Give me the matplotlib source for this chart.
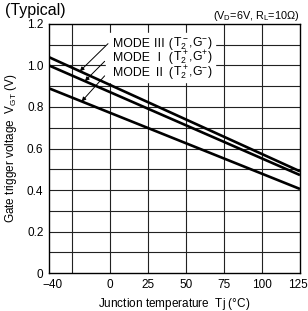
import numpy as np
import matplotlib
matplotlib.use("Agg")
import matplotlib.pyplot as plt
from matplotlib.transforms import ScaledTranslation

plt.rcParams['font.family'] = ['Liberation Sans', 'Noto Sans CJK JP', 'DejaVu Sans']
plt.rcParams['mathtext.fontset'] = 'custom'
plt.rcParams['mathtext.rm'] = 'Liberation Sans'
plt.rcParams['mathtext.it'] = 'Liberation Sans'

# Tj endpoints and VGT at each end
temps = [-40, 125]
mode3 = [1.04, 0.49]
mode1 = [1.00, 0.472]
mode2 = [0.89, 0.405]

mode_heads = ["MODE Ⅲ (", "MODE Ⅰ (", "MODE Ⅱ ("]
mode_tails = [r"$\mathregular{T_2^-}$,G$^{-}$)",
              r"$\mathregular{T_2^+}$,G$^{+}$)",
              r"$\mathregular{T_2^+}$,G$^{-}$)"]
# where each arrow points (Tj on the curve)
arrow_tj = [-19.7, -16.4, -18.5]

xticks = [-40, 0, 25, 50, 75, 100, 125]
xgrid = [-25, 0, 25, 50, 75, 100]
yticks = [0, 0.2, 0.4, 0.6, 0.8, 1.0, 1.2]

fig = plt.figure(figsize=(3.08, 3.11), dpi=100)
ax = fig.add_axes([0.159, 0.122, 0.815, 0.801])

for v in xgrid:
    ax.axvline(v, color='#222222', lw=0.8, zorder=1)
for v in np.arange(1, 12) / 10:
    ax.axhline(v, color='#222222', lw=0.8, zorder=1)

series = [mode3, mode1, mode2]
for s in series:
    ax.plot(temps, s, color='black', lw=1.9, zorder=3, solid_capstyle='butt')

# white box behind the labels
ax.fill_between([-2.5, 69], 0.921, 1.154, color='white', zorder=2)

text_pos = [(2, 1.09), (2, 1.022), (2, 0.95)]
start_pos = [(-1.2, 1.12), (-3.4, 1.035), (-3.4, 0.965)]
for head, tail, (tx, ty), (sx, sy), tj, s in zip(mode_heads, mode_tails, text_pos,
                                                 start_pos, arrow_tj, series):
    t1 = ax.text(tx, ty, head, fontsize=8.8, va='baseline', ha='left', zorder=4)
    ax.annotate(tail, xy=(1, ty), xycoords=(t1, 'data'), fontsize=8.8,
                va='baseline', ha='left', zorder=4)
    yv = np.interp(tj, temps, s)
    ax.annotate('', xy=(tj, yv), xytext=(sx, sy - 0.015),
                arrowprops=dict(arrowstyle='-|>', color='black', lw=0.7,
                                mutation_scale=6, shrinkA=0, shrinkB=0),
                zorder=4)

ax.set_xlim(-40, 125)
ax.set_ylim(0, 1.2)
ax.set_xticks(xticks)
ax.set_xticklabels(['\u221240', '0', '25', '50', '75', '100', '125'])
ax.set_yticks(yticks)
ax.set_yticklabels(['0', '0.2', '0.4', '0.6', '0.8', '1.0', '1.2'])
ax.tick_params(length=0, labelsize=8.5, pad=4)
labels = ax.get_xticklabels()
labels[0].set_transform(labels[0].get_transform() + ScaledTranslation(4 / 100, 0, fig.dpi_scale_trans))
labels[-1].set_transform(labels[-1].get_transform() + ScaledTranslation(-2 / 100, 0, fig.dpi_scale_trans))
for sp in ax.spines.values():
    sp.set_linewidth(1.0)

ax.set_xlabel(r"Junction temperature  Tj ($\mathregular{\degree}$C)", fontsize=8.5, labelpad=4)
ax.set_ylabel(r"Gate trigger voltage  V$_{\mathregular{GT}}$ (V)", fontsize=8.5, labelpad=6)

fig.text(0.015, 0.966, "(Typical)", fontsize=11.5, va='center', ha='left')
fig.text(0.972, 0.947, r"(V$_{\mathregular{D}}$=6V, R$_{\mathregular{L}}$=10Ω)", fontsize=7.8, va='center', ha='right')

fig.savefig("out.png", dpi=100)
